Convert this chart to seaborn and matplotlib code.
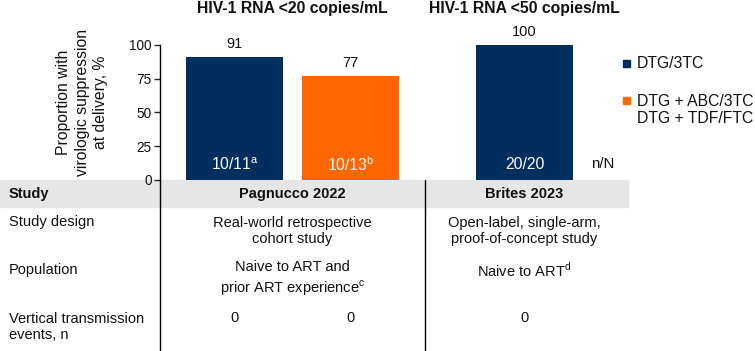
import numpy as np
import pandas as pd
import seaborn as sns
import matplotlib
matplotlib.use('Agg')
import matplotlib.pyplot as plt
from matplotlib.patches import Rectangle
from matplotlib.lines import Line2D

# data
bar_pos = [0, 1, 2.5]
suppression = [91, 77, 100]
regimen = ['DTG/3TC', 'DTG + ABC/3TC\nDTG + TDF/FTC', 'DTG/3TC']
n_over_N = ['10/11$^{\\mathrm{a}}$', '10/13$^{\\mathrm{b}}$', '20/20']
transmissions = ['0', '0', '0']
yticks = [0, 25, 50, 75, 100]
panel_titles = ['HIV-1 RNA <20 copies/mL', 'HIV-1 RNA <50 copies/mL']
studies = ['Pagnucco 2022', 'Brites 2023']
designs = ['Real-world retrospective\ncohort study',
           'Open-label, single-arm,\nproof-of-concept study']
populations = ['Naive to ART and\nprior ART experience$^{\\mathrm{c}}$',
               'Naive to ART$^{\\mathrm{d}}$']
row_labels = ['Study design', 'Population', 'Vertical transmission\nevents, n']

NAVY = '#002F5F'
ORANGE = '#FF6600'
palette = {'DTG/3TC': NAVY, 'DTG + ABC/3TC\nDTG + TDF/FTC': ORANGE}

sns.set_style('white')
plt.rcParams['font.family'] = ['Liberation Sans', 'DejaVu Sans']
plt.rcParams['mathtext.fontset'] = 'custom'
plt.rcParams['mathtext.rm'] = 'Liberation Sans'
plt.rcParams['text.color'] = '#111111'
FS = 10.5      # table text
FS_BIG = 11.3  # titles, legend, y label, bar labels
LS = 1.25

W, H = 755, 351
fig = plt.figure(figsize=(W / 100, H / 100), dpi=100)


def fx(px):
    return px / W


def fy(py):
    return 1 - py / H


unit = 116.0
x0 = -(234.5 - 160) / unit
ax = fig.add_axes([fx(160), fy(180), fx(628 - 160), (180 - 45) / H])

df = pd.DataFrame({'pos': bar_pos, 'val': suppression, 'reg': regimen})
sns.barplot(data=df, x='pos', y='val', hue='reg', palette=palette,
            native_scale=True, dodge=False, width=97 / unit, linewidth=0,
            saturation=1, legend=False, ax=ax)

ax.set_xlim(x0, x0 + (628 - 160) / unit)
ax.set_ylim(0, 100)
ax.set_yticks(yticks)
ax.set_xticks([])
ax.set_xlabel('')
ax.set_ylabel('')
for s in ['top', 'right', 'bottom']:
    ax.spines[s].set_visible(False)
ax.spines['left'].set_color('black')
ax.spines['left'].set_linewidth(1)
ax.tick_params(axis='y', left=True, length=4, width=1, labelsize=9.8, pad=2,
               labelcolor='#111111')
ax.patch.set_alpha(0)

for c in ax.containers:
    ax.bar_label(c, fmt='%.0f', padding=4.5, fontsize=10.5)

for x, lab in zip(bar_pos, n_over_N):
    ax.text(x, 11.5, lab, color='white', ha='center', va='center',
            fontsize=FS_BIG)
ax.text(x0 + (603 - 160) / unit, 11.5, 'n/N', ha='center', va='center',
        fontsize=10.8)

# column centres in data units
col_x = [(bar_pos[0] + bar_pos[1]) / 2, bar_pos[2]]
blend = matplotlib.transforms.blended_transform_factory(ax.transData,
                                                        fig.transFigure)

for cx, t in zip(col_x, panel_titles):
    ax.text(cx, fy(9), t, transform=blend, ha='center', va='center',
            fontsize=FS_BIG, fontweight='bold')

# y label
fig.text(fx(82), fy(102), 'Proportion with\nvirologic suppression\nat delivery, %',
         rotation=90, ha='center', va='center', fontsize=FS_BIG, linespacing=1.3)

# table
fig.patches.append(Rectangle((0, fy(207)), fx(628), 27 / H, transform=fig.transFigure,
                             color='#E6E6E6', zorder=-1))
fig.lines.append(Line2D([fx(160), fx(160)], [fy(180), 0], transform=fig.transFigure,
                        color='black', lw=1))
fig.lines.append(Line2D([fx(425), fx(425)], [fy(180), 0], transform=fig.transFigure,
                        color='black', lw=1))

fig.text(fx(9), fy(194), 'Study', fontweight='bold', fontsize=FS, va='center')
for cx, s in zip(col_x, studies):
    ax.text(cx, fy(194), s, transform=blend, ha='center', va='center',
            fontsize=FS, fontweight='bold')

row_y = [231, 279, 327]
for ry, lab in zip(row_y, row_labels):
    if '\n' in lab:
        fig.text(fx(9), fy(ry), lab, va='center', fontsize=FS, linespacing=LS)
    else:
        fig.text(fx(9), fy(ry - 9), lab, va='center', fontsize=FS)

for cx, d in zip(col_x, designs):
    ax.text(cx, fy(row_y[0]), d, transform=blend, ha='center', va='center',
            fontsize=FS, linespacing=LS)
for cx, p in zip(col_x, populations):
    yy = row_y[1] if '\n' in p else row_y[1] - 9
    ax.text(cx, fy(yy), p, transform=blend, ha='center', va='center',
            fontsize=FS, linespacing=LS)
for x, t in zip(bar_pos, transmissions):
    ax.text(x, fy(row_y[2] - 9), t, transform=blend, ha='center', va='center',
            fontsize=FS)

# legend drawn by hand so the square sits on the first line
leg_sq = [63.5, 100]
leg_txt = [63.5, 110]
for sy, ty, (name, col) in zip(leg_sq, leg_txt, palette.items()):
    fig.patches.append(Rectangle((fx(623), fy(sy + 3.5)), fx(7), 7 / H,
                                 transform=fig.transFigure, color=col))
    fig.text(fx(637), fy(ty), name, va='center', fontsize=FS_BIG,
             linespacing=1.1)

fig.savefig('out.png', dpi=100)
